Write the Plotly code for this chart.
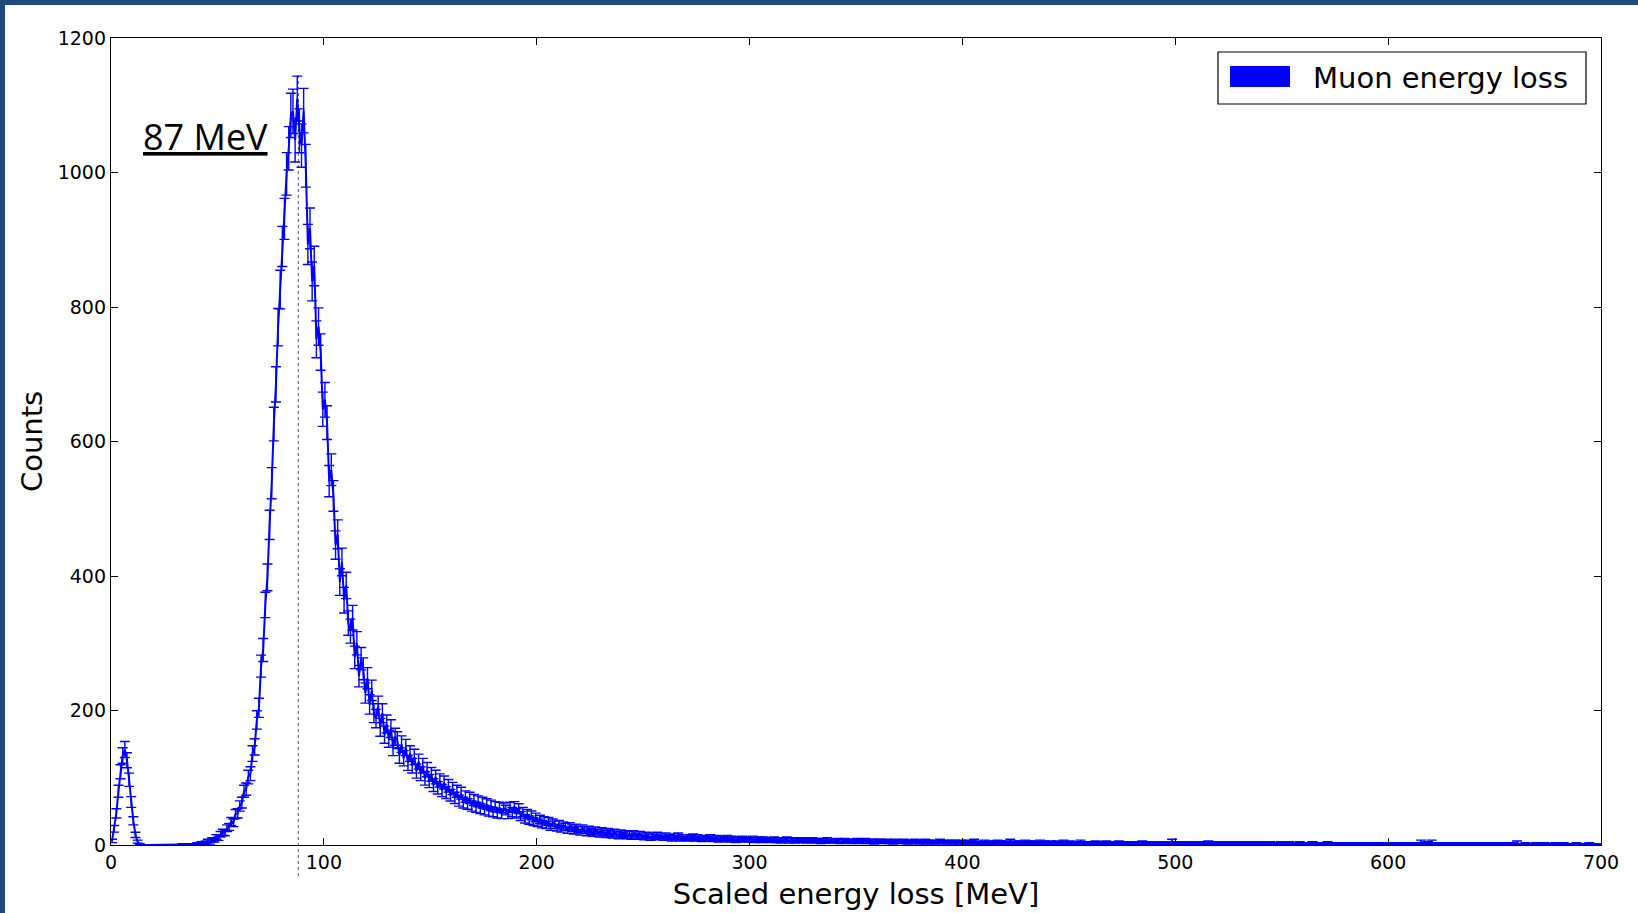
import math
import plotly.graph_objects as go

# ---------------- data (1 MeV bins, counts) ----------------
bin_width = 1.0
x_min, x_max = 0, 700
y_max = 1200
peak_mev = 88          # dotted vertical line position
peak_label = "87 MeV"

counts = [
    # 0-99
    6, 24, 47, 80, 109, 133, 142, 126, 97, 64,
    36, 15, 5, 1, 0, 0, 0, 0, 0, 0,
    0, 0, 0, 0, 0, 0, 0, 0, 0, 0,
    0, 0, 0, 1, 0, 0, 1, 0, 1, 1,
    2, 1, 3, 2, 4, 6, 3, 8, 7, 12,
    10, 16, 19, 18, 25, 27, 35, 33, 46, 47,
    58, 63, 80, 83, 101, 106, 136, 146, 186, 204,
    266, 290, 357, 398, 476, 538, 626, 685, 770, 826,
    890, 931, 998, 1036, 1085, 1091, 1048, 1110, 1062, 1040,
    1092, 1010, 893, 917, 838, 861, 752, 771, 733, 648,
    # 100-199
    662, 628, 541, 558, 519, 446, 462, 391, 421, 364,
    386, 330, 318, 338, 279, 300, 251, 277, 262, 226,
    248, 209, 230, 196, 188, 207, 175, 196, 164, 180,
    158, 173, 145, 161, 156, 133, 150, 129, 145, 122,
    136, 118, 131, 110, 124, 106, 118, 99, 112, 95,
    105, 89, 101, 85, 96, 81, 93, 78, 88, 74,
    84, 70, 80, 66, 77, 63, 72, 61, 70, 58,
    67, 56, 65, 54, 63, 52, 61, 50, 59, 49,
    57, 47, 56, 46, 55, 52, 46, 56, 49, 57,
    47, 54, 43, 49, 39, 46, 37, 44, 35, 41,
    # 200-299
    33, 38, 31, 36, 30, 35, 27, 33, 30, 26,
    31, 24, 29, 27, 22, 28, 25, 21, 26, 23,
    19, 25, 22, 18, 23, 20, 17, 22, 19, 16,
    21, 18, 15, 20, 17, 14, 19, 16, 13, 18,
    15, 17, 13, 16, 12, 17, 14, 12, 16, 13,
    11, 15, 13, 10, 14, 12, 15, 11, 13, 10,
    14, 11, 12, 9, 13, 11, 14, 9, 12, 10,
    12, 9, 11, 13, 9, 12, 10, 8, 11, 10,
    9, 12, 8, 10, 11, 7, 10, 9, 8, 11,
    7, 10, 9, 6, 9, 8, 10, 7, 9, 8,
    # 300-399
    8, 10, 6, 8, 9, 6, 9, 7, 8, 6,
    7, 9, 6, 8, 5, 8, 7, 9, 5, 8,
    7, 5, 8, 6, 7, 8, 5, 7, 6, 8,
    5, 7, 6, 4, 7, 5, 8, 6, 5, 6,
    6, 7, 4, 6, 7, 5, 6, 4, 6, 5,
    7, 4, 6, 5, 7, 4, 5, 6, 3, 6,
    5, 6, 4, 5, 6, 4, 5, 3, 6, 5,
    4, 5, 6, 4, 3, 5, 4, 6, 5, 3,
    5, 4, 6, 3, 5, 4, 5, 3, 4, 6,
    4, 5, 3, 4, 5, 3, 5, 4, 3, 5,
    # 400-499
    4, 3, 5, 3, 4, 6, 3, 4, 2, 3,
    5, 3, 4, 2, 3, 4, 5, 3, 4, 2,
    4, 3, 6, 3, 4, 2, 4, 3, 3, 5,
    3, 4, 2, 4, 3, 3, 5, 2, 4, 3,
    3, 4, 2, 2, 4, 3, 3, 5, 2, 3,
    4, 2, 3, 2, 3, 5, 3, 2, 3, 3,
    2, 3, 4, 2, 3, 3, 2, 4, 3, 2,
    3, 2, 3, 4, 2, 3, 2, 3, 1, 3,
    3, 2, 2, 3, 4, 2, 3, 2, 3, 2,
    2, 3, 1, 3, 2, 2, 3, 2, 6, 3,
    # 500-599
    2, 3, 2, 1, 3, 2, 3, 2, 2, 3,
    2, 1, 3, 2, 2, 4, 2, 2, 3, 1,
    2, 3, 2, 2, 1, 3, 2, 2, 3, 2,
    2, 1, 3, 2, 2, 2, 3, 1, 2, 2,
    3, 2, 1, 2, 3, 2, 2, 1, 2, 3,
    2, 2, 1, 3, 2, 2, 1, 2, 3, 2,
    2, 1, 2, 2, 3, 2, 1, 1, 2, 2,
    1, 3, 2, 2, 1, 2, 2, 1, 2, 1,
    2, 2, 1, 2, 1, 2, 1, 2, 2, 1,
    1, 2, 2, 1, 2, 1, 2, 1, 2, 2,
    # 600-699
    2, 1, 2, 1, 1, 2, 1, 2, 2, 1,
    2, 1, 2, 1, 2, 5, 1, 2, 3, 1,
    5, 1, 2, 1, 2, 1, 1, 2, 1, 2,
    1, 2, 1, 2, 1, 1, 2, 1, 2, 1,
    1, 2, 1, 1, 2, 1, 1, 2, 1, 1,
    2, 1, 1, 2, 1, 1, 1, 2, 1, 1,
    4, 1, 1, 1, 2, 1, 1, 1, 1, 2,
    1, 1, 1, 2, 1, 1, 1, 1, 2, 1,
    1, 1, 2, 1, 1, 1, 1, 1, 2, 1,
    1, 1, 1, 1, 2, 1, 1, 1, 1, 1,
]

x_ticks = [0, 100, 200, 300, 400, 500, 600, 700]
y_ticks = [0, 200, 400, 600, 800, 1000, 1200]
series_name = "Muon energy loss"
x_title = "Scaled energy loss [MeV]"
y_title = "Counts"

centers = [x_min + (i + 0.5) * bin_width for i in range(len(counts))]
errors = [math.sqrt(c) for c in counts]

# ---------------- layout helpers (pixel -> paper) ----------------
W, H = 1638, 913
ML, MR, MT, MB = 111, 37, 38, 68
PW, PH = W - ML - MR, H - MT - MB


def px(xp):
    return (xp - ML) / PW


def py(yp):
    return (H - MB - yp) / PH


BLUE = "#0000ff"
FRAME = "#1f497d"
FONT = "DejaVu Sans"

fig = go.Figure()
fig.add_trace(go.Scatter(
    x=centers, y=counts, mode="lines", name=series_name, showlegend=False,
    line=dict(color=BLUE, width=2),
    error_y=dict(type="data", array=errors, visible=True, color=BLUE,
                 thickness=1.4, width=5),
))

shapes = [
    # slide frame strips
    dict(type="rect", xref="paper", yref="paper", x0=px(0), x1=px(W), y0=py(5), y1=py(0),
         fillcolor=FRAME, line=dict(width=0), layer="above"),
    dict(type="rect", xref="paper", yref="paper", x0=px(0), x1=px(5), y0=py(H), y1=py(0),
         fillcolor=FRAME, line=dict(width=0), layer="above"),
    # dotted peak line
    dict(type="line", xref="x domain", yref="paper",
         x0=(peak_mev - x_min) / (x_max - x_min), x1=(peak_mev - x_min) / (x_max - x_min),
         y0=py(876), y1=py(72), line=dict(color="#555555", width=1, dash="dot"), layer="below"),
    # legend box and patch
    dict(type="rect", xref="paper", yref="paper", x0=px(1218), x1=px(1586), y0=py(104), y1=py(52),
         fillcolor="white", line=dict(color="black", width=1.2), layer="above"),
    dict(type="rect", xref="paper", yref="paper", x0=px(1230), x1=px(1290), y0=py(87), y1=py(66),
         fillcolor=BLUE, line=dict(width=0), layer="above"),
]

annotations = [
    dict(text="<u>" + peak_label + "</u>", xref="paper", yref="paper", x=px(141), y=py(136),
         xanchor="left", yanchor="middle", showarrow=False,
         font=dict(family="Open Sans", size=36, color="black")),
    dict(text=series_name, xref="paper", yref="paper", x=px(1311), y=py(78),
         xanchor="left", yanchor="middle", showarrow=False,
         font=dict(family=FONT, size=29, color="black")),
]

axis_common = dict(
    showgrid=False, zeroline=False, showline=True, linecolor="black", linewidth=1.3,
    mirror="ticks", ticks="inside", ticklen=7, tickwidth=1, tickcolor="black",
    tickfont=dict(family=FONT, size=19, color="black"), automargin=False,
)

fig.update_layout(
    width=W, height=H,
    margin=dict(l=ML, r=MR, t=MT, b=MB, pad=0, autoexpand=False),
    paper_bgcolor="white", plot_bgcolor="white",
    showlegend=False,
    shapes=shapes, annotations=annotations,
    xaxis=dict(range=[x_min, x_max], tickvals=x_ticks, ticktext=[str(v) for v in x_ticks],
               title=dict(text=x_title, font=dict(family=FONT, size=29, color="black"), standoff=11),
               **axis_common),
    yaxis=dict(range=[0, y_max], tickvals=y_ticks, ticktext=[str(v) for v in y_ticks],
               title=dict(text=y_title, font=dict(family=FONT, size=29, color="black"), standoff=6),
               **axis_common),
)

fig.write_html("out.html")
